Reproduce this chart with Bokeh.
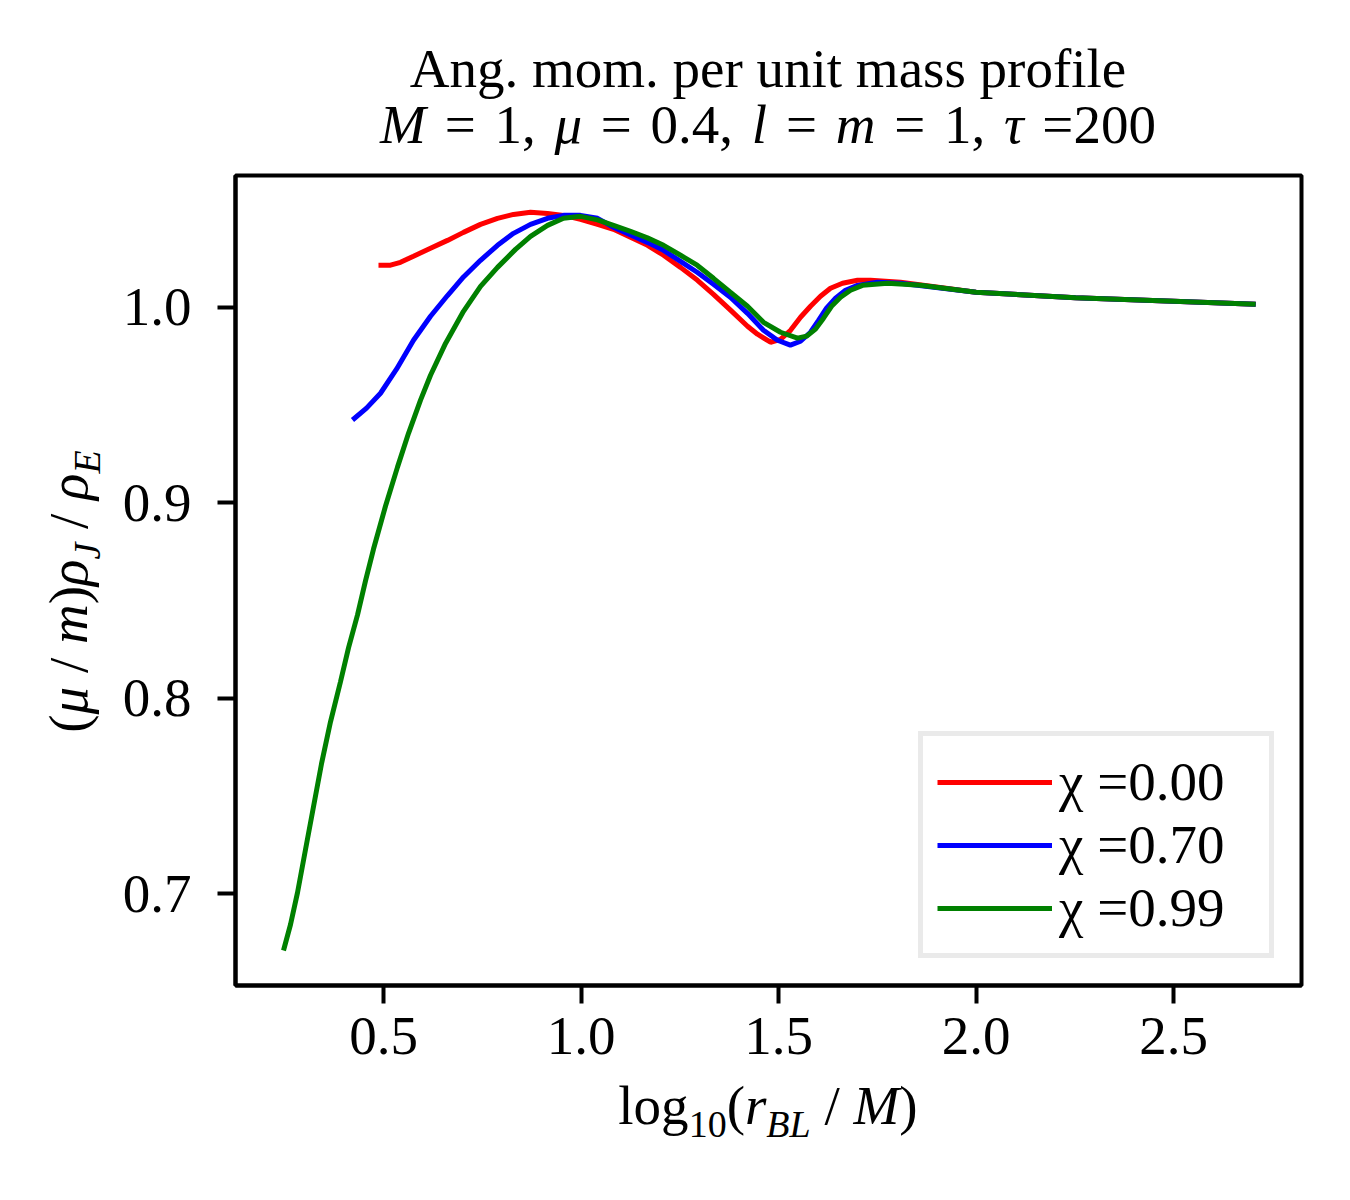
from bokeh.plotting import figure
from bokeh.models import (FixedTicker, PrintfTickFormatter, Legend, LegendItem, Range1d, Div)
from bokeh.layouts import column, row
from bokeh.embed import file_html
from bokeh.resources import INLINE

# ---------------- data ----------------
x_chi000 = [0.4873, 0.5177, 0.543, 0.5759, 0.619, 0.662, 0.7025, 0.7456, 0.7886, 0.8291,
            0.8722, 0.9152, 0.9557, 0.9987, 1.0418, 1.0823, 1.1253, 1.1684, 1.2089, 1.2519,
            1.2949, 1.3354, 1.3785, 1.4215, 1.4468, 1.4797, 1.5051, 1.5304, 1.5557, 1.581,
            1.6063, 1.6316, 1.662, 1.70, 1.7329, 1.8089, 2.0, 2.252, 2.5, 2.708]
y_chi000 = [1.0215, 1.0215, 1.0230, 1.0261, 1.0302, 1.0342, 1.0383, 1.0424, 1.0455, 1.0475,
            1.0486, 1.0480, 1.0470, 1.0450, 1.0424, 1.0399, 1.0358, 1.0317, 1.0266, 1.0204,
            1.0138, 1.0066, 0.9985, 0.9903, 0.9862, 0.9821, 0.9836, 0.9882, 0.9949, 1.0005,
            1.0056, 1.0097, 1.0123, 1.0138, 1.0138, 1.0128, 1.0077, 1.0049, 1.0031, 1.0015]

x_chi070 = [0.4215, 0.457, 0.4924, 0.5329, 0.5759, 0.619, 0.662, 0.7025, 0.7456, 0.7886,
            0.8291, 0.8722, 0.9152, 0.9557, 0.9987, 1.0418, 1.0823, 1.168, 1.209, 1.252,
            1.294, 1.3354, 1.378, 1.4215, 1.462, 1.4975, 1.530, 1.5557, 1.581, 1.6013,
            1.6215, 1.6443, 1.6696, 1.70, 1.7506, 1.809, 2.0, 2.252, 2.5, 2.708]
y_chi070 = [0.9423, 0.9484, 0.9560, 0.9683, 0.9831, 0.9954, 1.0060, 1.0155, 1.0240, 1.0317,
            1.0378, 1.0424, 1.0455, 1.0470, 1.0470, 1.0455, 1.0409, 1.0332, 1.0291, 1.0235,
            1.0179, 1.0118, 1.0051, 0.9969, 0.9882, 0.9831, 0.9806, 0.9826, 0.9872, 0.9933,
            0.9995, 1.0046, 1.0087, 1.0112, 1.0128, 1.0123, 1.0077, 1.0049, 1.0031, 1.0015]

x_chi099 = [0.2468, 0.2646, 0.2823, 0.3025, 0.3228, 0.343, 0.3658, 0.3911, 0.4114, 0.4342,
            0.4544, 0.4747, 0.5051, 0.5354, 0.5633, 0.5937, 0.619, 0.657, 0.7025, 0.7456,
            0.7886, 0.8342, 0.8722, 0.9152, 0.9557, 0.9987, 1.0418, 1.0823, 1.1253, 1.168,
            1.209, 1.2519, 1.294, 1.3354, 1.378, 1.4215, 1.462, 1.5051, 1.548, 1.5709,
            1.5937, 1.6139, 1.6342, 1.657, 1.6823, 1.7127, 1.7759, 1.8595, 2.0, 2.252, 2.5, 2.708]
y_chi099 = [0.6709, 0.6842, 0.7005, 0.7225, 0.7445, 0.7664, 0.7879, 0.8084, 0.8257, 0.8426,
            0.8600, 0.8763, 0.8983, 0.9182, 0.9355, 0.9525, 0.9652, 0.9815, 0.9979, 1.0107,
            1.0204, 1.0296, 1.0363, 1.0419, 1.0455, 1.0465, 1.0447, 1.0419, 1.0388, 1.0355,
            1.0317, 1.0266, 1.0215, 1.0148, 1.0077, 1.0005, 0.9923, 0.9872, 0.9842, 0.9852,
            0.9888, 0.9944, 1.0005, 1.0051, 1.0087, 1.0112, 1.0123, 1.0112, 1.0077, 1.0049, 1.0031, 1.0015]

series_labels = ["\u03c7 =0.00", "\u03c7 =0.70", "\u03c7 =0.99"]
series_colors = ["#ff0000", "#0000ff", "#008000"]

x_ticks = [0.5, 1.0, 1.5, 2.0, 2.5]
y_ticks = [0.7, 0.8, 0.9, 1.0]

SUB = '<span style="font-size:38px;vertical-align:-13px">'
title_line1 = "Ang. mom. per unit mass profile"
title_line2 = "<i>M</i> = 1, <i>\u03bc</i> = 0.4, <i>l</i> = <i>m</i> = 1, <i>\u03c4</i> =200"
x_label = f"log{SUB}10</span>(<i>r</i>{SUB}<i>BL</i></span> / <i>M</i>)"
y_label = f"(<i>\u03bc</i> / <i>m</i>)<i>\u03c1</i>{SUB}<i>J</i></span> / <i>\u03c1</i>{SUB}<i>E</i></span>"

# ---------------- layout ----------------
FONT = "Liberation Serif"
TOP_H, LEFT_W, PLOT_W, PLOT_H, BOT_H = 168, 108, 1232, 907, 85
TOTAL_W = LEFT_W + PLOT_W

p = figure(width=PLOT_W, height=PLOT_H, x_range=Range1d(0.1253, 2.824), y_range=Range1d(0.653, 1.0674),
           output_backend="svg", toolbar_location=None,
           min_border_left=127, min_border_right=39, min_border_top=7, min_border_bottom=90)
p.background_fill_color = "white"
p.border_fill_color = "white"
p.outline_line_color = "black"
p.outline_line_width = 4
p.xgrid.visible = False
p.ygrid.visible = False

for ax in (p.xaxis[0], p.yaxis[0]):
    ax.axis_line_color = "black"
    ax.axis_line_width = 4
    ax.major_tick_in = 0
    ax.major_tick_out = 18
    ax.major_tick_line_width = 4
    ax.major_tick_line_color = "black"
    ax.minor_tick_line_color = None
    ax.major_label_text_font = FONT
    ax.major_label_text_font_size = "55px"
    ax.major_label_text_color = "black"
    ax.formatter = PrintfTickFormatter(format="%.1f")
p.xaxis.ticker = FixedTicker(ticks=x_ticks)
p.yaxis.ticker = FixedTicker(ticks=y_ticks)
p.xaxis.major_label_standoff = 14
p.yaxis.major_label_standoff = 26

renderers = []
for xs, ys, c in zip([x_chi000, x_chi070, x_chi099], [y_chi000, y_chi070, y_chi099], series_colors):
    renderers.append(p.line(xs, ys, line_color=c, line_width=5))

legend = Legend(items=[LegendItem(label=l, renderers=[r]) for l, r in zip(series_labels, renderers)],
                location="bottom_right")
legend.label_text_font = FONT
legend.label_text_font_size = "55px"
legend.label_text_color = "black"
legend.label_text_baseline = "middle"
legend.glyph_width = 115
legend.glyph_height = 60
legend.label_height = 60
legend.label_width = 196
legend.label_standoff = 7
legend.padding = 14
legend.spacing = 0
legend.margin = 27
legend.border_line_color = "#d6d6d6"
legend.border_line_width = 5
legend.background_fill_color = "white"
legend.background_fill_alpha = 0.8
p.add_layout(legend)

base = (f"font-family:'{FONT}';font-size:55px;line-height:55px;color:#000;"
        "white-space:nowrap;position:absolute;")
top_html = (f'<div style="position:relative;width:{TOTAL_W}px;height:{TOP_H}px">'
            f'<div style="{base}left:235px;width:1066px;top:41px;text-align:center">{title_line1}</div>'
            f'<div style="{base}left:235px;width:1066px;top:97px;text-align:center;word-spacing:5px">{title_line2}</div>'
            '</div>')
left_html = (f'<div style="position:relative;width:{LEFT_W}px;height:{PLOT_H}px">'
             f'<div style="{base}left:-132px;top:396px;width:400px;height:55px;text-align:center;'
             f'transform:rotate(-90deg)">{y_label}</div></div>')
bottom_html = (f'<div style="position:relative;width:{TOTAL_W}px;height:{BOT_H}px">'
               f'<div style="{base}left:235px;width:1066px;top:3px;text-align:center">{x_label}</div></div>')

top_div = Div(text=top_html, width=TOTAL_W, height=TOP_H, margin=0)
left_div = Div(text=left_html, width=LEFT_W, height=PLOT_H, margin=0)
bottom_div = Div(text=bottom_html, width=TOTAL_W, height=BOT_H, margin=0)

page = column(top_div, row(left_div, p, spacing=0), bottom_div, spacing=0)

open("out.html", "w").write(file_html(page, INLINE))
